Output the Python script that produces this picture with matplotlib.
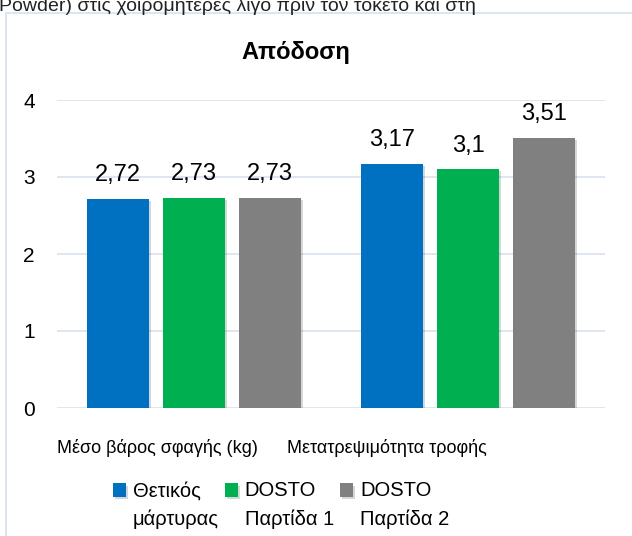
import numpy as np
import matplotlib.pyplot as plt
import matplotlib.transforms as mtransforms
import matplotlib.patheffects as pe
from matplotlib.patches import Rectangle

plt.rcParams['font.family'] = ['Liberation Sans', 'DejaVu Sans']

# data
categories = ['Μέσο βάρος σφαγής (kg)', 'Μετατρεψιμότητα τροφής']
series_names = ['Θετικός\nμάρτυρας', 'DOSTO\nΠαρτίδα 1', 'DOSTO\nΠαρτίδα 2']
control = [2.72, 3.17]
batch1 = [2.73, 3.10]
batch2 = [2.73, 3.51]
value_labels = [['2,72', '3,17'], ['2,73', '3,1'], ['2,73', '3,51']]
colors = ['#0070C0', '#00B050', '#808080']

fig = plt.figure(figsize=(6.32, 5.36), dpi=100)

# panel border (chart cut out of a document)
fig.patches.append(Rectangle((6 / 632, -0.1), 1.2, 1 - 13 / 536 + 0.1,
                             transform=fig.transFigure, fill=False,
                             edgecolor='#d6e0ee', linewidth=1.2))
# cut-off line of text above the chart
fig.text(-0.002, 1 - 11 / 536, 'Powder) στις χοιρομητέρες λίγο πριν τον τοκετό και στη',
         fontsize=14, va='baseline', ha='left', color='#222222')

ax = fig.add_axes([57 / 632, 1 - 408 / 536, 548 / 632, 308 / 536])

x = np.arange(len(categories))
w = 0.226
step = 0.277
all_series = [control, batch1, batch2]
shadow = [pe.SimplePatchShadow(offset=(1.5, -1.5), alpha=0.18), pe.Normal()]
for i, vals in enumerate(all_series):
    pos = x + (i - 1) * step
    ax.bar(pos, vals, width=w, color=colors[i], label=series_names[i], zorder=3,
           path_effects=shadow)
    for p, v, t in zip(pos, vals, value_labels[i]):
        ax.annotate(t, (p, v), xytext=(0, 9), textcoords='offset points',
                    ha='center', va='bottom', fontsize=17)

ax.set_xlim(-0.5, 1.5)
ax.set_ylim(0, 4)
ax.set_yticks([0, 1, 2, 3, 4])
ax.yaxis.grid(True, color='#d9e2ef', linewidth=1.2, zorder=0)
for s in ax.spines.values():
    s.set_visible(False)
ax.tick_params(axis='y', length=0, labelsize=15, pad=16)
ax.tick_params(axis='x', length=0, labelsize=13, pad=22)
ax.set_xticks(x)
ax.set_xticklabels(categories)
# category labels sit left of the bar groups in the original
shifts = [-37, -81]
for lab, dx in zip(ax.get_xticklabels(), shifts):
    lab.set_transform(lab.get_transform() +
                      mtransforms.ScaledTranslation(dx / 100, 0, fig.dpi_scale_trans))

fig.text(296 / 632, 1 - 52 / 536, 'Απόδοση', ha='center', va='center',
         fontsize=17, fontweight='bold')

leg = fig.legend(loc='center', bbox_to_anchor=(281 / 632, 1 - 505 / 536), ncol=3,
                 frameon=False, fontsize=14.5, handlelength=0.65, handleheight=0.65,
                 handletextpad=0.35, columnspacing=0.3)
for t in leg.get_texts():
    t.set_linespacing(1.55)
for p in leg.get_patches():
    p.set_y(p.get_y() + 11)

fig.savefig('out.png', dpi=100)
